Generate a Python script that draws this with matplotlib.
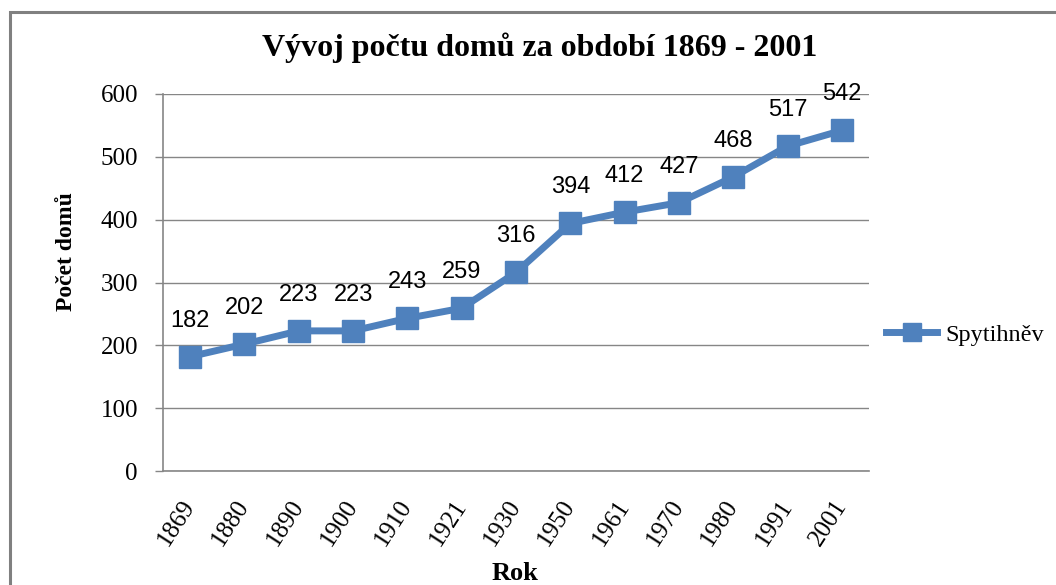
import matplotlib
matplotlib.use("Agg")
import matplotlib.pyplot as plt
from matplotlib.patches import Rectangle

# data
years = ["1869", "1880", "1890", "1900", "1910", "1921", "1930",
         "1950", "1961", "1970", "1980", "1991", "2001"]
houses = [182, 202, 223, 223, 243, 259, 316, 394, 412, 427, 468, 517, 542]
y_ticks = [0, 100, 200, 300, 400, 500, 600]

BLUE = "#4F81BD"
GRAY = "#868686"
SERIF = "Liberation Serif"
W, H = 1056, 585

fig = plt.figure(figsize=(W / 100, H / 100), dpi=100)
fig.patch.set_facecolor("white")

# outer chart frame (right/bottom edges fall outside the picture)
fig.patches.append(Rectangle((9.5 / W, -0.1), 1.2, (H - 11.5) / H + 0.1,
                             transform=fig.transFigure, fill=False,
                             edgecolor="#808080", linewidth=2.2))

ax = fig.add_axes([163 / W, (H - 471) / H, 706 / W, 377 / H])
x = list(range(len(years)))
ax.plot(x, houses, color=BLUE, lw=5, marker="s", markersize=16.5,
        markerfacecolor=BLUE, markeredgecolor=BLUE, label="Spytihněv",
        zorder=3)

for xi, v in zip(x, houses):
    ax.annotate(str(v), (xi, v), xytext=(0, 26), textcoords="offset points",
                ha="center", va="center", fontsize=17,
                family="Liberation Sans", color="black")

ax.set_xlim(-0.5, len(years) - 0.5)
ax.set_ylim(0, 600)
ax.set_yticks(y_ticks)
ax.set_yticklabels([str(t) for t in y_ticks], family=SERIF, fontsize=18)
ax.set_xticks(x)
ax.set_xticklabels(years, family=SERIF, fontsize=18, rotation=57,
                   ha="right", va="center", rotation_mode="anchor")
ax.tick_params(axis="x", length=0, pad=22)
ax.tick_params(axis="y", length=6, width=1, color=GRAY, pad=12)

ax.grid(axis="y", color=GRAY, lw=1)
ax.set_axisbelow(True)
for s in ("top", "right"):
    ax.spines[s].set_visible(False)
for s in ("left", "bottom"):
    ax.spines[s].set_color(GRAY)
    ax.spines[s].set_linewidth(1.2)

# titles
fig.text(540 / W, 1 - 48 / H, "Vývoj počtu domů za období 1869 - 2001",
         ha="center", va="center", fontsize=23, fontweight="bold",
         family=SERIF)
fig.text(66 / W, 1 - 252 / H, "Počet domů", rotation=90, ha="center",
         va="center", fontsize=17, fontweight="bold", family=SERIF)
fig.text(515 / W, 1 - 573 / H, "Rok", ha="center", va="center",
         fontsize=19, fontweight="bold", family=SERIF)

fig.legend(loc="center left", bbox_to_anchor=(874 / W, 1 - 335 / H),
           frameon=False, prop={"family": SERIF, "size": 17.5},
           handlelength=2.1, handletextpad=0.35, borderpad=0,
           markerscale=0.8)

fig.savefig("out.png", dpi=100, facecolor="white")
